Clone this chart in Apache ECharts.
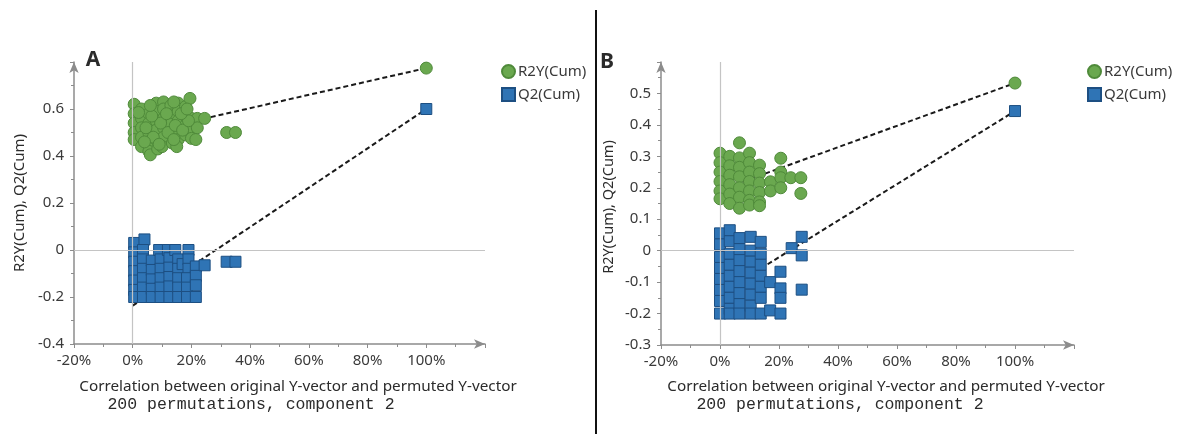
<!DOCTYPE html>
<html><head><meta charset="utf-8">
<script src="https://cdn.jsdelivr.net/npm/echarts/dist/echarts.min.js"></script>
<style>html,body{margin:0;padding:0;background:#fff}#c{width:1181px;height:434px}</style>
</head><body><div id="c"></div><script>
// ---------- data ----------
const seriesNames = ['R2Y(Cum)', 'Q2(Cum)'];
const xTitle = 'Correlation between original Y-vector and permuted Y-vector';
const xSubtitle = '200 permutations, component 2';
const yTitle = 'R2Y(Cum), Q2(Cum)';
const panelLabels = ['A', 'B'];

const r2yA = [
  [0.005,0.62],[0.005,0.58],[0.005,0.54],[0.005,0.50],[0.005,0.47],
  [0.03,0.60],[0.03,0.56],[0.03,0.52],[0.03,0.48],[0.03,0.44],
  [0.055,0.58],[0.055,0.54],[0.055,0.50],[0.055,0.46],[0.055,0.42],[0.06,0.405],
  [0.08,0.625],[0.08,0.59],[0.08,0.55],[0.08,0.51],[0.08,0.47],[0.085,0.43],
  [0.105,0.63],[0.105,0.60],[0.105,0.56],[0.105,0.52],[0.105,0.48],[0.10,0.44],
  [0.13,0.615],[0.13,0.575],[0.13,0.535],[0.13,0.495],[0.135,0.455],
  [0.155,0.625],[0.155,0.59],[0.155,0.55],[0.155,0.51],[0.155,0.47],[0.15,0.44],
  [0.18,0.61],[0.18,0.57],[0.18,0.53],[0.18,0.49],
  [0.195,0.645],[0.20,0.56],[0.20,0.52],[0.20,0.475],
  [0.22,0.56],[0.22,0.52],[0.215,0.47],[0.245,0.56],
  [0.02,0.585],[0.045,0.52],[0.07,0.48],[0.095,0.54],[0.12,0.50],[0.145,0.53],
  [0.17,0.51],[0.19,0.55],[0.065,0.57],[0.115,0.58],[0.165,0.58],[0.04,0.46],
  [0.09,0.45],[0.14,0.47],[0.185,0.60],[0.06,0.615],[0.14,0.63],
  [0.32,0.50],[0.35,0.50],
  [1.0,0.774]
];
const q2A = [
  [0.005,0.03],[0.005,-0.01],[0.005,-0.05],[0.005,-0.09],[0.005,-0.13],[0.005,-0.17],[0.005,-0.20],
  [0.04,0.045],[0.035,0.0],[0.035,-0.04],[0.035,-0.08],[0.035,-0.12],[0.035,-0.16],[0.035,-0.20],
  [0.065,-0.045],[0.065,-0.085],[0.065,-0.125],[0.065,-0.165],[0.065,-0.20],
  [0.09,0.0],[0.095,-0.04],[0.095,-0.08],[0.095,-0.12],[0.095,-0.16],[0.095,-0.20],
  [0.12,0.0],[0.125,-0.035],[0.125,-0.075],[0.125,-0.115],[0.125,-0.155],[0.125,-0.20],
  [0.145,0.0],[0.155,-0.04],[0.155,-0.08],[0.155,-0.12],[0.155,-0.16],[0.155,-0.20],
  [0.17,-0.06],
  [0.19,0.0],[0.19,-0.04],[0.19,-0.08],[0.185,-0.12],[0.185,-0.16],[0.185,-0.20],
  [0.215,-0.07],[0.215,-0.11],[0.215,-0.15],[0.215,-0.20],
  [0.245,-0.065],
  [0.32,-0.05],[0.35,-0.05],
  [1.0,0.60]
];
const r2yLineA = [[0,0.49],[1.0,0.774]];
const q2LineA = [[0,-0.237],[1.0,0.60]];

const r2yB = [
  [0.0,0.31],[0.0,0.28],[0.0,0.25],[0.0,0.22],[0.0,0.19],[0.0,0.165],
  [0.033,0.30],[0.033,0.27],[0.033,0.24],[0.033,0.21],[0.033,0.18],[0.033,0.15],
  [0.066,0.343],[0.066,0.295],[0.066,0.265],[0.066,0.235],[0.066,0.20],[0.066,0.17],[0.066,0.135],
  [0.10,0.31],[0.10,0.28],[0.10,0.25],[0.10,0.22],[0.10,0.19],[0.10,0.16],[0.10,0.145],
  [0.134,0.272],[0.134,0.245],[0.134,0.215],[0.134,0.185],[0.134,0.155],[0.134,0.143],
  [0.171,0.219],[0.171,0.19],
  [0.206,0.294],[0.206,0.25],[0.206,0.232],[0.206,0.20],
  [0.24,0.232],
  [0.274,0.232],[0.274,0.182],
  [1.0,0.533]
];
const q2B = [
  [0.0,0.055],[0.0,0.02],[0.0,-0.02],[0.0,-0.055],[0.0,-0.09],[0.0,-0.125],[0.0,-0.16],[0.0,-0.20],
  [0.033,0.065],[0.033,0.03],[0.033,-0.01],[0.033,-0.045],[0.033,-0.08],[0.033,-0.115],[0.033,-0.15],[0.033,-0.185],[0.033,-0.20],
  [0.066,0.04],[0.066,0.005],[0.066,-0.03],[0.066,-0.065],[0.066,-0.10],[0.066,-0.135],[0.066,-0.17],[0.066,-0.20],
  [0.104,0.044],[0.104,0.0],[0.104,-0.035],[0.104,-0.07],[0.104,-0.105],[0.104,-0.14],[0.104,-0.175],[0.104,-0.20],
  [0.138,0.028],[0.138,-0.01],[0.138,-0.045],[0.138,-0.08],[0.138,-0.115],[0.138,-0.15],[0.138,-0.20],
  [0.17,-0.10],[0.17,-0.19],
  [0.205,-0.067],[0.205,-0.12],[0.205,-0.15],[0.205,-0.20],
  [0.243,0.008],
  [0.277,0.044],[0.277,-0.015],[0.277,-0.124],
  [1.0,0.444]
];
const r2yLineB = [[0,0.193],[1.0,0.533]];
const q2LineB = [[0,-0.137],[1.0,0.444]];

// ---------- styling ----------
const FONT = '"Noto Sans", "Open Sans", sans-serif';
const GREEN = '#6aa84f', GREEN_B = '#4f8a3a';
const BLUE = '#2f74b5', BLUE_B = '#1d4f82';
const AXIS = '#8c8c8c';
const LABEL = '#3a3a3a';

function xAxisCfg(gi) {
  return {
    type: 'value', gridIndex: gi, min: -0.2, max: 1.2, interval: 0.2,
    axisLine: { onZero: false, lineStyle: { color: AXIS, width: 1.5 }, symbol: ['none', 'arrow'], symbolSize: [7, 11] },
    axisTick: { length: 4, lineStyle: { color: AXIS } },
    minorTick: { show: true, splitNumber: 2, length: 3, lineStyle: { color: AXIS } },
    splitLine: { show: false },
    axisLabel: { color: LABEL, fontSize: 15, fontFamily: FONT, margin: 9,
      formatter: v => v > 1.05 ? '' : Math.round(v * 100) + '%' }
  };
}
function yAxisCfg(gi, min, max, interval) {
  return {
    type: 'value', gridIndex: gi, min, max, interval,
    axisLine: { onZero: false, lineStyle: { color: AXIS, width: 1.5 }, symbol: ['none', 'arrow'], symbolSize: [7, 11] },
    axisTick: { length: 4, lineStyle: { color: AXIS } },
    minorTick: { show: true, splitNumber: 2, length: 3, lineStyle: { color: AXIS } },
    splitLine: { show: false },
    axisLabel: { color: LABEL, fontSize: 15, fontFamily: FONT, margin: 10,
      formatter: v => v > max - interval / 2 ? '' : String(Math.round(v * 10) / 10) }
  };
}
function zeroLines(gi) {
  return {
    type: 'line', xAxisIndex: gi, yAxisIndex: gi, data: [], z: 1, silent: true,
    markLine: { silent: true, symbol: ['none', 'none'], label: { show: false }, animation: false,
      lineStyle: { color: '#c4c4c4', type: 'solid', width: 1.2 },
      data: [{ xAxis: 0 }, { yAxis: 0 }] }
  };
}
function dashLine(gi, data, name) {
  return { type: 'line', name, xAxisIndex: gi, yAxisIndex: gi, data, z: 2, showSymbol: false, silent: true,
    lineStyle: { color: '#1a1a1a', width: 2, type: [5, 3] } };
}
function scatter(gi, data, which) {
  const isR = which === 0;
  return { type: 'scatter', name: seriesNames[which], xAxisIndex: gi, yAxisIndex: gi, data, z: 3,
    symbol: isR ? 'circle' : 'rect', symbolSize: isR ? 12 : 11,
    itemStyle: { color: isR ? GREEN : BLUE, borderColor: isR ? GREEN_B : BLUE_B, borderWidth: 1, opacity: 1 } };
}
function legendCfg(left) {
  return { left, top: 59, orient: 'vertical', itemGap: 8, itemWidth: 13, itemHeight: 13,
    textStyle: { fontSize: 15, color: LABEL, fontFamily: FONT, padding: [0, 0, 0, -2] },
    data: [{ name: seriesNames[0], icon: 'circle' }, { name: seriesNames[1], icon: 'rect' }] };
}
function textEl(x, y, text, font, extra) {
  return Object.assign({ type: 'text', x, y, style: { text, font, fill: '#2b2b2b', textAlign: 'center', textVerticalAlign: 'middle' } }, extra || {});
}

const chart = echarts.init(document.getElementById('c'), null, { renderer: 'canvas' });
chart.setOption({
  animation: false,
  backgroundColor: '#fff',
  grid: [
    { left: 74, top: 62, width: 411, height: 282 },
    { left: 661, top: 62, width: 413, height: 283 }
  ],
  xAxis: [xAxisCfg(0), xAxisCfg(1)],
  yAxis: [yAxisCfg(0, -0.4, 0.8, 0.2), yAxisCfg(1, -0.3, 0.6, 0.1)],
  legend: [legendCfg(496), legendCfg(1082)],
  series: [
    zeroLines(0), zeroLines(1),
    dashLine(0, r2yLineA, 'lineR2A'), dashLine(0, q2LineA, 'lineQ2A'),
    dashLine(1, r2yLineB, 'lineR2B'), dashLine(1, q2LineB, 'lineQ2B'),
    scatter(0, r2yA, 0), scatter(0, q2A, 1),
    scatter(1, r2yB, 0), scatter(1, q2B, 1)
  ],
  graphic: [
    { type: 'line', shape: { x1: 596, y1: 10, x2: 596, y2: 434 }, style: { stroke: '#111', lineWidth: 2 } },
    textEl(93, 60, panelLabels[0], 'bold 21px ' + FONT, {}),
    textEl(607, 62, panelLabels[1], 'bold 21px ' + FONT, {}),
    textEl(298, 387, xTitle, '15.3px ' + FONT),
    textEl(886, 387, xTitle, '15.3px ' + FONT),
    textEl(251, 405, xSubtitle, '16.5px "Liberation Mono", monospace'),
    textEl(840, 405, xSubtitle, '16.5px "Liberation Mono", monospace'),
    textEl(20, 203, yTitle, '15px ' + FONT, { rotation: Math.PI / 2 }),
    textEl(609, 207, yTitle, '14.5px ' + FONT, { rotation: Math.PI / 2 })
  ]
});
</script></body></html>
